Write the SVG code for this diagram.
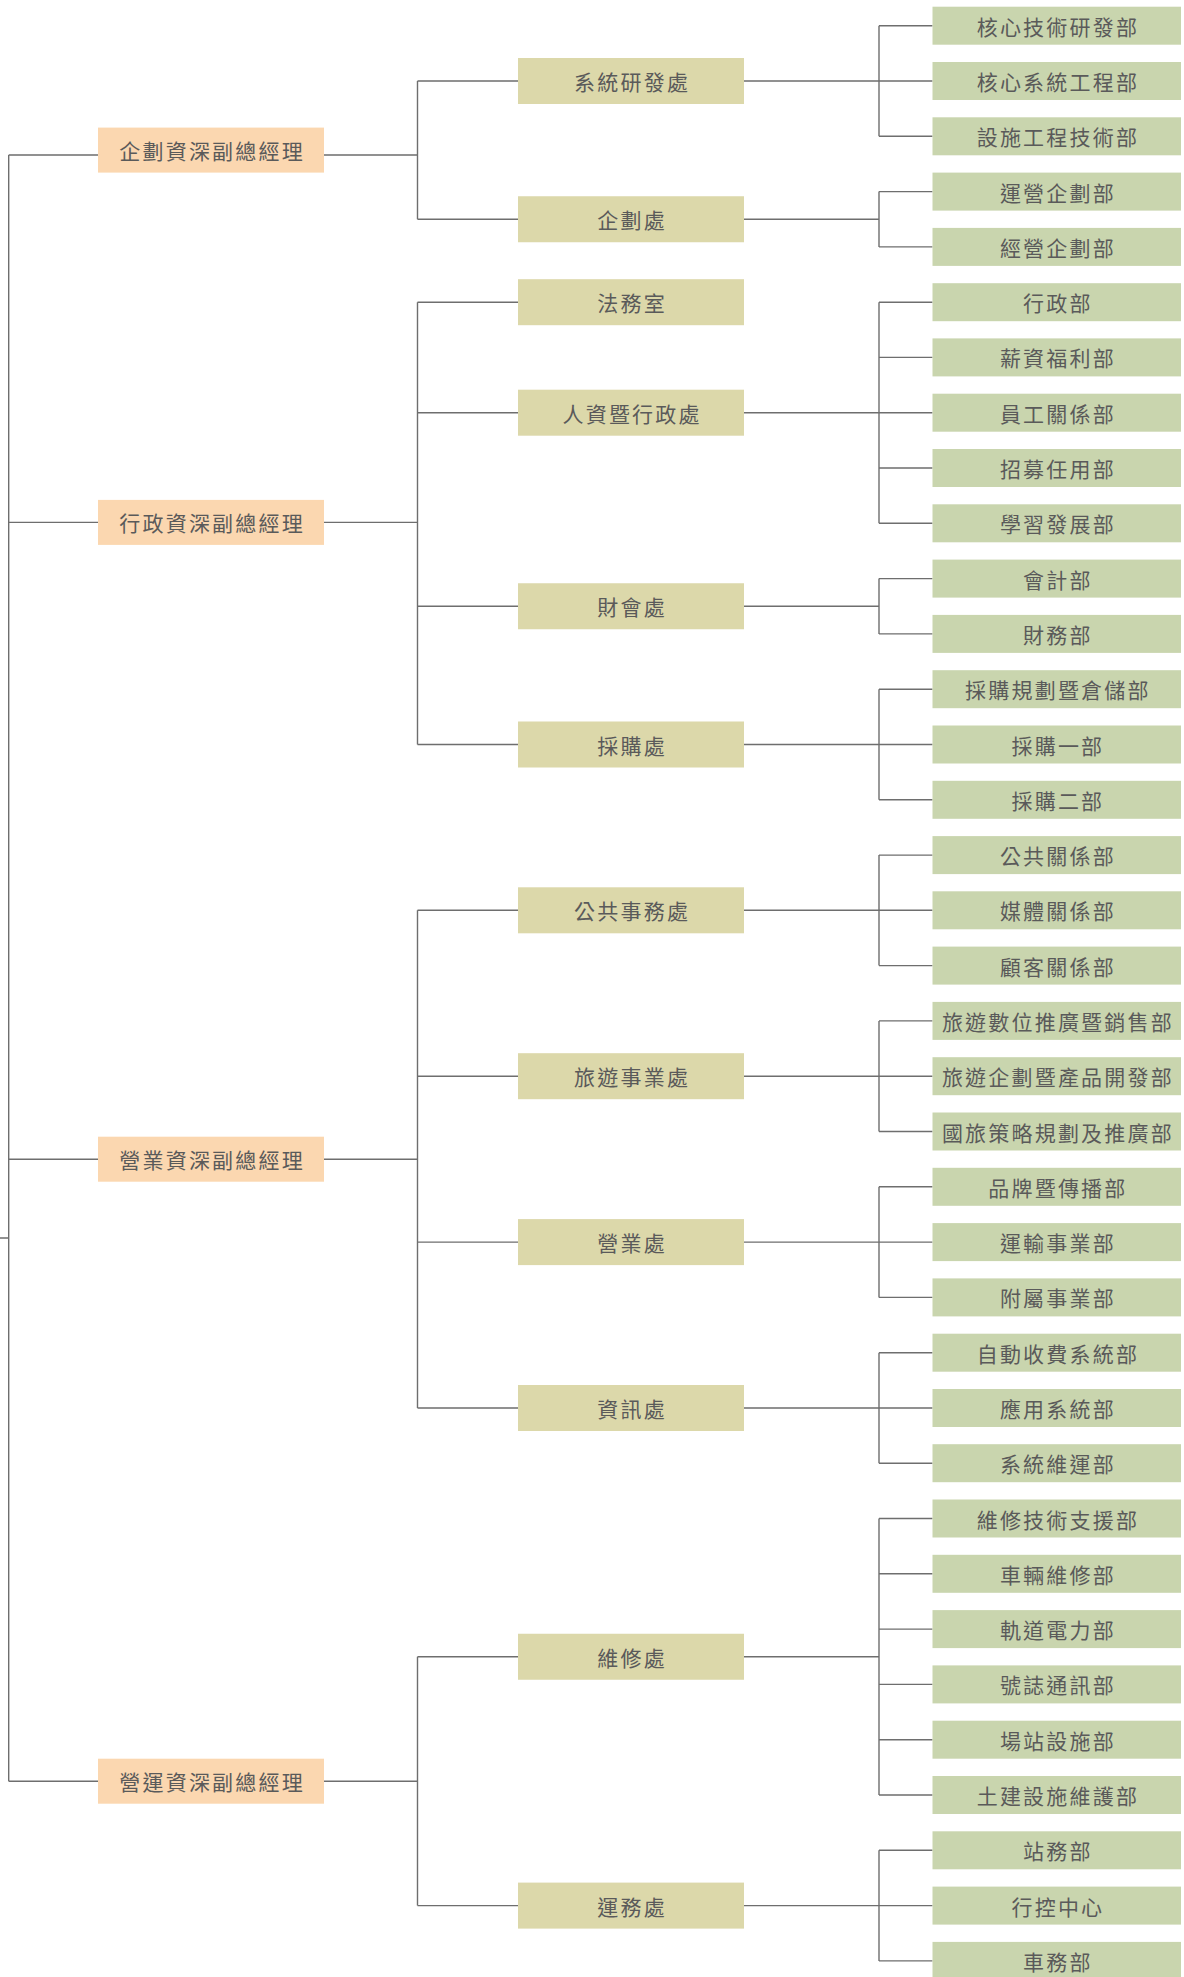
<svg xmlns="http://www.w3.org/2000/svg" width="1184" height="1977" viewBox="0 0 1184 1977">
<style>
.l1 rect{fill:#FBD7B0}
.l2 rect{fill:#DCD8AA}
.l3 rect{fill:#C9D5AE}
text{font-family:"Noto Sans CJK TC","Noto Sans CJK SC",sans-serif;font-size:21px;fill:#5a5a5a;letter-spacing:2.2px;text-anchor:middle;dominant-baseline:central}
#connectors path{fill:none;stroke:#6e6e6e;stroke-width:1.4}
</style>
<rect width="1184" height="1977" fill="#ffffff"/>
<g id="connectors">
<path d="M0,1238H8.7M8.7,155V1781.2M8.7,155H98M8.7,522.4H98M8.7,1159.2H98M8.7,1781.2H98"/>
<path d="M324,155H417.5M417.5,81V219.25M417.5,81H518M417.5,219.25H518"/>
<path d="M324,522.4H417.5M417.5,302.2V744.5M417.5,302.2H518M417.5,412.7H518M417.5,606.25H518M417.5,744.5H518"/>
<path d="M324,1159.2H417.5M417.5,910.3V1408M417.5,910.3H518M417.5,1076.2H518M417.5,1242.1H518M417.5,1408H518"/>
<path d="M324,1781.2H417.5M417.5,1656.75V1905.6M417.5,1656.75H518M417.5,1905.6H518"/>
<path d="M744,81H879M879,25.7V136.3M879,25.7H932.5M879,81H932.5M879,136.3H932.5"/>
<path d="M744,219.25H879M879,191.6V246.9M879,191.6H932.5M879,246.9H932.5"/>
<path d="M744,412.7H879M879,302.2V523.3M879,302.2H932.5M879,357.4H932.5M879,412.7H932.5M879,468H932.5M879,523.3H932.5"/>
<path d="M744,606.25H879M879,578.6V633.9M879,578.6H932.5M879,633.9H932.5"/>
<path d="M744,744.5H879M879,689.2V799.8M879,689.2H932.5M879,744.5H932.5M879,799.8H932.5"/>
<path d="M744,910.3H879M879,855.1V965.6M879,855.1H932.5M879,910.3H932.5M879,965.6H932.5"/>
<path d="M744,1076.2H879M879,1020.9V1131.5M879,1020.9H932.5M879,1076.2H932.5M879,1131.5H932.5"/>
<path d="M744,1242.1H879M879,1186.8V1297.4M879,1186.8H932.5M879,1242.1H932.5M879,1297.4H932.5"/>
<path d="M744,1408H879M879,1352.7V1463.2M879,1352.7H932.5M879,1408H932.5M879,1463.2H932.5"/>
<path d="M744,1656.75H879M879,1518.5V1795M879,1518.5H932.5M879,1573.8H932.5M879,1629.1H932.5M879,1684.4H932.5M879,1739.7H932.5M879,1795H932.5"/>
<path d="M744,1905.6H879M879,1850.3V1960.9M879,1850.3H932.5M879,1905.6H932.5M879,1960.9H932.5"/>
</g>
<g id="n-vp-planning" class="l1"><rect x="98" y="127.6" width="226" height="45"/><text x="212.1" y="150.3">企劃資深副總經理</text></g>
<g id="n-vp-admin" class="l1"><rect x="98" y="499.9" width="226" height="45"/><text x="212.1" y="522.4">行政資深副總經理</text></g>
<g id="n-vp-business" class="l1"><rect x="98" y="1136.7" width="226" height="45"/><text x="212.1" y="1159.2">營業資深副總經理</text></g>
<g id="n-vp-operation" class="l1"><rect x="98" y="1758.7" width="226" height="45"/><text x="212.1" y="1781.2">營運資深副總經理</text></g>

<g id="n-sysrd" class="l2"><rect x="518" y="58" width="226" height="46"/><text x="632.1" y="81">系統研發處</text></g>
<g id="n-planning" class="l2"><rect x="518" y="196.25" width="226" height="46"/><text x="632.1" y="219.25">企劃處</text></g>
<g id="n-legal" class="l2"><rect x="518" y="279.2" width="226" height="46"/><text x="632.1" y="302.2">法務室</text></g>
<g id="n-hr" class="l2"><rect x="518" y="389.7" width="226" height="46"/><text x="632.1" y="412.7">人資暨行政處</text></g>
<g id="n-finance" class="l2"><rect x="518" y="583.25" width="226" height="46"/><text x="632.1" y="606.25">財會處</text></g>
<g id="n-purchase" class="l2"><rect x="518" y="721.5" width="226" height="46"/><text x="632.1" y="744.5">採購處</text></g>
<g id="n-public" class="l2"><rect x="518" y="887.3" width="226" height="46"/><text x="632.1" y="910.3">公共事務處</text></g>
<g id="n-tourism" class="l2"><rect x="518" y="1053.2" width="226" height="46"/><text x="632.1" y="1076.2">旅遊事業處</text></g>
<g id="n-business" class="l2"><rect x="518" y="1219.1" width="226" height="46"/><text x="632.1" y="1242.1">營業處</text></g>
<g id="n-it" class="l2"><rect x="518" y="1385" width="226" height="46"/><text x="632.1" y="1408">資訊處</text></g>
<g id="n-maint" class="l2"><rect x="518" y="1633.75" width="226" height="46"/><text x="632.1" y="1656.75">維修處</text></g>
<g id="n-transport" class="l2"><rect x="518" y="1882.6" width="226" height="46"/><text x="632.1" y="1905.6">運務處</text></g>

<g id="d00" class="l3"><rect x="932.5" y="6.7" width="248.5" height="38"/><text x="1057.9" y="25.7">核心技術研發部</text></g>
<g id="d01" class="l3"><rect x="932.5" y="62" width="248.5" height="38"/><text x="1057.9" y="81">核心系統工程部</text></g>
<g id="d02" class="l3"><rect x="932.5" y="117.3" width="248.5" height="38"/><text x="1057.9" y="136.3">設施工程技術部</text></g>
<g id="d03" class="l3"><rect x="932.5" y="172.6" width="248.5" height="38"/><text x="1057.9" y="191.6">運營企劃部</text></g>
<g id="d04" class="l3"><rect x="932.5" y="227.9" width="248.5" height="38"/><text x="1057.9" y="246.9">經營企劃部</text></g>
<g id="d05" class="l3"><rect x="932.5" y="283.2" width="248.5" height="38"/><text x="1057.9" y="302.2">行政部</text></g>
<g id="d06" class="l3"><rect x="932.5" y="338.4" width="248.5" height="38"/><text x="1057.9" y="357.4">薪資福利部</text></g>
<g id="d07" class="l3"><rect x="932.5" y="393.7" width="248.5" height="38"/><text x="1057.9" y="412.7">員工關係部</text></g>
<g id="d08" class="l3"><rect x="932.5" y="449" width="248.5" height="38"/><text x="1057.9" y="468">招募任用部</text></g>
<g id="d09" class="l3"><rect x="932.5" y="504.3" width="248.5" height="38"/><text x="1057.9" y="523.3">學習發展部</text></g>
<g id="d10" class="l3"><rect x="932.5" y="559.6" width="248.5" height="38"/><text x="1057.9" y="578.6">會計部</text></g>
<g id="d11" class="l3"><rect x="932.5" y="614.9" width="248.5" height="38"/><text x="1057.9" y="633.9">財務部</text></g>
<g id="d12" class="l3"><rect x="932.5" y="670.2" width="248.5" height="38"/><text x="1057.9" y="689.2">採購規劃暨倉儲部</text></g>
<g id="d13" class="l3"><rect x="932.5" y="725.5" width="248.5" height="38"/><text x="1057.9" y="744.5">採購一部</text></g>
<g id="d14" class="l3"><rect x="932.5" y="780.8" width="248.5" height="38"/><text x="1057.9" y="799.8">採購二部</text></g>
<g id="d15" class="l3"><rect x="932.5" y="836.1" width="248.5" height="38"/><text x="1057.9" y="855.1">公共關係部</text></g>
<g id="d16" class="l3"><rect x="932.5" y="891.3" width="248.5" height="38"/><text x="1057.9" y="910.3">媒體關係部</text></g>
<g id="d17" class="l3"><rect x="932.5" y="946.6" width="248.5" height="38"/><text x="1057.9" y="965.6">顧客關係部</text></g>
<g id="d18" class="l3"><rect x="932.5" y="1001.9" width="248.5" height="38"/><text x="1057.9" y="1020.9">旅遊數位推廣暨銷售部</text></g>
<g id="d19" class="l3"><rect x="932.5" y="1057.2" width="248.5" height="38"/><text x="1057.9" y="1076.2">旅遊企劃暨產品開發部</text></g>
<g id="d20" class="l3"><rect x="932.5" y="1112.5" width="248.5" height="38"/><text x="1057.9" y="1131.5">國旅策略規劃及推廣部</text></g>
<g id="d21" class="l3"><rect x="932.5" y="1167.8" width="248.5" height="38"/><text x="1057.9" y="1186.8">品牌暨傳播部</text></g>
<g id="d22" class="l3"><rect x="932.5" y="1223.1" width="248.5" height="38"/><text x="1057.9" y="1242.1">運輸事業部</text></g>
<g id="d23" class="l3"><rect x="932.5" y="1278.4" width="248.5" height="38"/><text x="1057.9" y="1297.4">附屬事業部</text></g>
<g id="d24" class="l3"><rect x="932.5" y="1333.7" width="248.5" height="38"/><text x="1057.9" y="1352.7">自動收費系統部</text></g>
<g id="d25" class="l3"><rect x="932.5" y="1389" width="248.5" height="38"/><text x="1057.9" y="1408">應用系統部</text></g>
<g id="d26" class="l3"><rect x="932.5" y="1444.2" width="248.5" height="38"/><text x="1057.9" y="1463.2">系統維運部</text></g>
<g id="d27" class="l3"><rect x="932.5" y="1499.5" width="248.5" height="38"/><text x="1057.9" y="1518.5">維修技術支援部</text></g>
<g id="d28" class="l3"><rect x="932.5" y="1554.8" width="248.5" height="38"/><text x="1057.9" y="1573.8">車輛維修部</text></g>
<g id="d29" class="l3"><rect x="932.5" y="1610.1" width="248.5" height="38"/><text x="1057.9" y="1629.1">軌道電力部</text></g>
<g id="d30" class="l3"><rect x="932.5" y="1665.4" width="248.5" height="38"/><text x="1057.9" y="1684.4">號誌通訊部</text></g>
<g id="d31" class="l3"><rect x="932.5" y="1720.7" width="248.5" height="38"/><text x="1057.9" y="1739.7">場站設施部</text></g>
<g id="d32" class="l3"><rect x="932.5" y="1776" width="248.5" height="38"/><text x="1057.9" y="1795">土建設施維護部</text></g>
<g id="d33" class="l3"><rect x="932.5" y="1831.3" width="248.5" height="38"/><text x="1057.9" y="1850.3">站務部</text></g>
<g id="d34" class="l3"><rect x="932.5" y="1886.6" width="248.5" height="38"/><text x="1057.9" y="1905.6">行控中心</text></g>
<g id="d35" class="l3"><rect x="932.5" y="1941.9" width="248.5" height="38"/><text x="1057.9" y="1960.9">車務部</text></g>
</svg>
